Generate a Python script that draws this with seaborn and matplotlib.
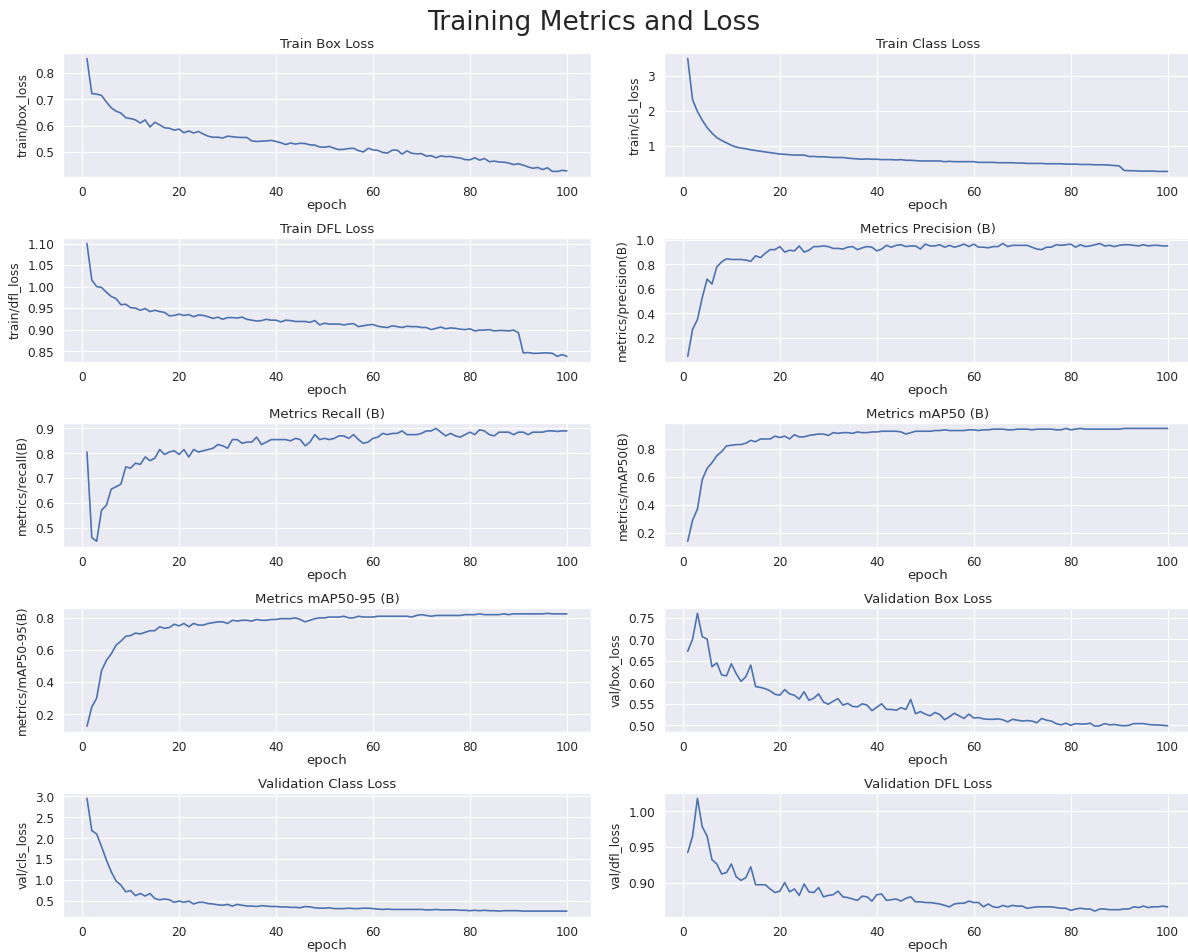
import pandas as pd
import seaborn as sns
import matplotlib.pyplot as plt
from matplotlib.ticker import MaxNLocator

# Training log values (epochs 1..100)
epoch = list(range(1, 101))

train_box_loss = [
    0.855, 0.722, 0.720, 0.715, 0.690, 0.668, 0.655, 0.648, 0.630, 0.627,
    0.622, 0.610, 0.622, 0.595, 0.613, 0.603, 0.592, 0.590, 0.583, 0.587,
    0.573, 0.580, 0.572, 0.578, 0.568, 0.560, 0.556, 0.556, 0.553, 0.560,
    0.558, 0.556, 0.555, 0.555, 0.542, 0.540, 0.541, 0.542, 0.544, 0.540,
    0.535, 0.528, 0.534, 0.530, 0.533, 0.532, 0.527, 0.526, 0.519, 0.518,
    0.521, 0.514, 0.509, 0.510, 0.513, 0.514, 0.505, 0.500, 0.514, 0.508,
    0.506, 0.498, 0.496, 0.507, 0.507, 0.492, 0.504, 0.495, 0.493, 0.494,
    0.484, 0.486, 0.478, 0.485, 0.482, 0.483, 0.479, 0.477, 0.471, 0.470,
    0.478, 0.469, 0.475, 0.463, 0.465, 0.462, 0.461, 0.458, 0.452, 0.455,
    0.450, 0.443, 0.438, 0.441, 0.433, 0.440, 0.426, 0.426, 0.430, 0.428,
]

train_cls_loss = [
    3.50, 2.32, 1.98, 1.73, 1.52, 1.36, 1.23, 1.15, 1.08, 1.01,
    0.96, 0.93, 0.91, 0.88, 0.86, 0.84, 0.82, 0.80, 0.78, 0.76,
    0.75, 0.74, 0.73, 0.73, 0.73, 0.69, 0.69, 0.68, 0.68, 0.67,
    0.66, 0.66, 0.66, 0.64, 0.63, 0.62, 0.61, 0.62, 0.61, 0.61,
    0.60, 0.60, 0.60, 0.59, 0.60, 0.58, 0.58, 0.57, 0.56, 0.56,
    0.56, 0.56, 0.56, 0.54, 0.55, 0.54, 0.54, 0.54, 0.54, 0.54,
    0.52, 0.52, 0.52, 0.52, 0.51, 0.51, 0.51, 0.51, 0.50, 0.50,
    0.49, 0.49, 0.49, 0.49, 0.48, 0.48, 0.48, 0.48, 0.47, 0.47,
    0.47, 0.46, 0.46, 0.46, 0.45, 0.45, 0.45, 0.44, 0.43, 0.42,
    0.29, 0.28, 0.28, 0.27, 0.27, 0.27, 0.27, 0.26, 0.26, 0.26,
]

train_dfl_loss = [
    1.100, 1.015, 1.000, 0.998, 0.987, 0.977, 0.972, 0.958, 0.959, 0.951,
    0.950, 0.945, 0.949, 0.942, 0.945, 0.942, 0.940, 0.932, 0.933, 0.936,
    0.933, 0.935, 0.930, 0.934, 0.933, 0.930, 0.926, 0.929, 0.924, 0.928,
    0.928, 0.927, 0.929, 0.924, 0.922, 0.920, 0.921, 0.924, 0.922, 0.922,
    0.918, 0.922, 0.921, 0.919, 0.919, 0.919, 0.917, 0.921, 0.911, 0.915,
    0.913, 0.913, 0.913, 0.911, 0.913, 0.914, 0.907, 0.909, 0.911, 0.912,
    0.908, 0.906, 0.905, 0.909, 0.907, 0.905, 0.908, 0.907, 0.907, 0.905,
    0.905, 0.900, 0.903, 0.906, 0.902, 0.904, 0.903, 0.901, 0.900, 0.902,
    0.897, 0.899, 0.899, 0.900, 0.897, 0.898, 0.898, 0.897, 0.899, 0.893,
    0.846, 0.847, 0.845, 0.845, 0.846, 0.846, 0.845, 0.838, 0.842, 0.838,
]

precision = [
    0.05, 0.27, 0.35, 0.53, 0.68, 0.64, 0.78, 0.82, 0.845, 0.84,
    0.84, 0.84, 0.835, 0.825, 0.87, 0.855, 0.89, 0.92, 0.92, 0.945,
    0.90, 0.915, 0.91, 0.95, 0.90, 0.915, 0.945, 0.945, 0.95, 0.945,
    0.93, 0.93, 0.925, 0.94, 0.945, 0.92, 0.935, 0.945, 0.94, 0.91,
    0.925, 0.955, 0.94, 0.955, 0.96, 0.945, 0.95, 0.95, 0.925, 0.965,
    0.95, 0.95, 0.96, 0.94, 0.955, 0.94, 0.95, 0.965, 0.945, 0.965,
    0.94, 0.94, 0.935, 0.945, 0.945, 0.97, 0.945, 0.955, 0.955, 0.955,
    0.955, 0.94, 0.925, 0.92, 0.94, 0.94, 0.96, 0.955, 0.96, 0.965,
    0.94, 0.96, 0.945, 0.95, 0.96, 0.97, 0.95, 0.955, 0.945, 0.955,
    0.96, 0.96, 0.955, 0.95, 0.96, 0.95, 0.955, 0.955, 0.95, 0.95,
]

recall = [
    0.805, 0.46, 0.445, 0.57, 0.59, 0.655, 0.665, 0.675, 0.745, 0.74,
    0.76, 0.755, 0.785, 0.77, 0.78, 0.815, 0.795, 0.805, 0.81, 0.795,
    0.815, 0.785, 0.815, 0.805, 0.81, 0.815, 0.82, 0.835, 0.83, 0.82,
    0.855, 0.855, 0.84, 0.845, 0.845, 0.865, 0.835, 0.845, 0.855, 0.855,
    0.855, 0.855, 0.85, 0.86, 0.855, 0.83, 0.845, 0.875, 0.855, 0.86,
    0.855, 0.86, 0.87, 0.87, 0.86, 0.875, 0.855, 0.84, 0.845, 0.86,
    0.865, 0.88, 0.875, 0.88, 0.88, 0.89, 0.875, 0.875, 0.875, 0.88,
    0.89, 0.89, 0.90, 0.885, 0.87, 0.88, 0.87, 0.865, 0.875, 0.885,
    0.875, 0.895, 0.89, 0.875, 0.87, 0.885, 0.885, 0.885, 0.875, 0.885,
    0.885, 0.875, 0.885, 0.885, 0.885, 0.89, 0.89, 0.888, 0.89, 0.89,
]

map50 = [
    0.14, 0.29, 0.37, 0.58, 0.66, 0.70, 0.75, 0.78, 0.82, 0.825,
    0.83, 0.83, 0.84, 0.86, 0.85, 0.87, 0.87, 0.87, 0.89, 0.88,
    0.89, 0.87, 0.90, 0.885, 0.885, 0.895, 0.90, 0.905, 0.905, 0.895,
    0.915, 0.91, 0.915, 0.915, 0.91, 0.92, 0.915, 0.915, 0.92, 0.92,
    0.925, 0.925, 0.925, 0.925, 0.92, 0.905, 0.915, 0.925, 0.925, 0.925,
    0.925, 0.93, 0.93, 0.935, 0.93, 0.93, 0.93, 0.93, 0.935, 0.935,
    0.93, 0.935, 0.935, 0.94, 0.94, 0.94, 0.935, 0.935, 0.94, 0.94,
    0.94, 0.935, 0.94, 0.94, 0.94, 0.94, 0.935, 0.935, 0.945, 0.935,
    0.94, 0.945, 0.94, 0.94, 0.94, 0.94, 0.94, 0.94, 0.94, 0.94,
    0.945, 0.945, 0.945, 0.945, 0.945, 0.945, 0.945, 0.945, 0.945, 0.945,
]

map50_95 = [
    0.125, 0.245, 0.30, 0.47, 0.535, 0.575, 0.63, 0.655, 0.685, 0.69,
    0.705, 0.70, 0.71, 0.72, 0.72, 0.745, 0.735, 0.74, 0.76, 0.75,
    0.765, 0.745, 0.765, 0.755, 0.755, 0.765, 0.77, 0.775, 0.775, 0.765,
    0.785, 0.78, 0.785, 0.785, 0.78, 0.79, 0.785, 0.785, 0.79, 0.79,
    0.795, 0.795, 0.795, 0.80, 0.79, 0.775, 0.785, 0.795, 0.80, 0.80,
    0.805, 0.805, 0.805, 0.81, 0.80, 0.80, 0.81, 0.805, 0.805, 0.805,
    0.81, 0.81, 0.81, 0.81, 0.81, 0.81, 0.81, 0.805, 0.815, 0.82,
    0.815, 0.81, 0.815, 0.815, 0.815, 0.815, 0.815, 0.815, 0.82, 0.82,
    0.82, 0.825, 0.82, 0.82, 0.82, 0.82, 0.825, 0.82, 0.825, 0.825,
    0.825, 0.825, 0.825, 0.825, 0.825, 0.828, 0.825, 0.825, 0.825, 0.825,
]

val_box_loss = [
    0.672, 0.700, 0.760, 0.706, 0.700, 0.636, 0.645, 0.617, 0.615, 0.643,
    0.620, 0.602, 0.613, 0.640, 0.590, 0.588, 0.585, 0.580, 0.572, 0.570,
    0.583, 0.573, 0.570, 0.561, 0.578, 0.558, 0.563, 0.573, 0.554, 0.549,
    0.556, 0.562, 0.547, 0.551, 0.544, 0.543, 0.550, 0.547, 0.534, 0.542,
    0.550, 0.537, 0.537, 0.535, 0.541, 0.537, 0.560, 0.527, 0.532, 0.526,
    0.522, 0.530, 0.525, 0.513, 0.520, 0.528, 0.522, 0.516, 0.526, 0.517,
    0.518, 0.515, 0.514, 0.514, 0.515, 0.513, 0.508, 0.514, 0.512, 0.510,
    0.511, 0.510, 0.506, 0.516, 0.512, 0.510, 0.504, 0.501, 0.505, 0.500,
    0.504, 0.503, 0.503, 0.505, 0.498, 0.499, 0.504, 0.501, 0.502, 0.500,
    0.499, 0.500, 0.504, 0.504, 0.504, 0.502, 0.501, 0.501, 0.500, 0.499,
]

val_cls_loss = [
    2.95, 2.18, 2.10, 1.80, 1.48, 1.20, 0.98, 0.88, 0.72, 0.75,
    0.63, 0.68, 0.62, 0.68, 0.56, 0.53, 0.55, 0.53, 0.47, 0.50,
    0.47, 0.50, 0.43, 0.47, 0.47, 0.44, 0.43, 0.41, 0.40, 0.42,
    0.38, 0.42, 0.40, 0.38, 0.38, 0.37, 0.39, 0.38, 0.37, 0.37,
    0.36, 0.36, 0.35, 0.35, 0.34, 0.37, 0.36, 0.34, 0.33, 0.33,
    0.34, 0.32, 0.32, 0.32, 0.33, 0.32, 0.32, 0.33, 0.33, 0.32,
    0.31, 0.30, 0.31, 0.30, 0.30, 0.30, 0.30, 0.30, 0.30, 0.30,
    0.29, 0.29, 0.30, 0.29, 0.29, 0.29, 0.29, 0.28, 0.28, 0.27,
    0.28, 0.27, 0.28, 0.27, 0.27, 0.26, 0.27, 0.27, 0.27, 0.27,
    0.26, 0.26, 0.26, 0.26, 0.26, 0.26, 0.26, 0.26, 0.26, 0.26,
]

val_dfl_loss = [
    0.942, 0.965, 1.018, 0.978, 0.965, 0.932, 0.926, 0.912, 0.914, 0.926,
    0.908, 0.903, 0.907, 0.922, 0.897, 0.897, 0.897, 0.891, 0.886, 0.888,
    0.900, 0.887, 0.891, 0.882, 0.898, 0.887, 0.886, 0.893, 0.880, 0.882,
    0.883, 0.888, 0.880, 0.879, 0.877, 0.875, 0.881, 0.880, 0.874, 0.883,
    0.884, 0.875, 0.876, 0.877, 0.874, 0.878, 0.880, 0.873, 0.873, 0.872,
    0.872, 0.871, 0.870, 0.868, 0.866, 0.870, 0.871, 0.871, 0.874, 0.872,
    0.872, 0.866, 0.870, 0.866, 0.865, 0.868, 0.866, 0.868, 0.867, 0.867,
    0.864, 0.865, 0.866, 0.866, 0.866, 0.866, 0.865, 0.864, 0.864, 0.861,
    0.863, 0.864, 0.863, 0.863, 0.860, 0.863, 0.863, 0.862, 0.862, 0.862,
    0.863, 0.863, 0.866, 0.865, 0.867, 0.865, 0.866, 0.866, 0.867, 0.866,
]

df = pd.DataFrame({
    'epoch': epoch,
    'train/box_loss': train_box_loss,
    'train/cls_loss': train_cls_loss,
    'train/dfl_loss': train_dfl_loss,
    'metrics/precision(B)': precision,
    'metrics/recall(B)': recall,
    'metrics/mAP50(B)': map50,
    'metrics/mAP50-95(B)': map50_95,
    'val/box_loss': val_box_loss,
    'val/cls_loss': val_cls_loss,
    'val/dfl_loss': val_dfl_loss,
})

# column -> subplot title
panels = [
    ('train/box_loss', 'Train Box Loss'),
    ('train/cls_loss', 'Train Class Loss'),
    ('train/dfl_loss', 'Train DFL Loss'),
    ('metrics/precision(B)', 'Metrics Precision (B)'),
    ('metrics/recall(B)', 'Metrics Recall (B)'),
    ('metrics/mAP50(B)', 'Metrics mAP50 (B)'),
    ('metrics/mAP50-95(B)', 'Metrics mAP50-95 (B)'),
    ('val/box_loss', 'Validation Box Loss'),
    ('val/cls_loss', 'Validation Class Loss'),
    ('val/dfl_loss', 'Validation DFL Loss'),
]

sns.set_theme(style="darkgrid")

fig, axs = plt.subplots(5, 2, figsize=(15.001, 12.025))
fig.subplots_adjust(left=0.053, right=1.003, top=0.944, bottom=0.037,
                    wspace=0.138, hspace=0.49)

for ax, (col, title) in zip(axs.flat, panels):
    sns.lineplot(data=df, x='epoch', y=col, ax=ax)
    ax.set_title(title, pad=5)
    ax.set_xlabel('epoch', labelpad=0)
    ax.set_ylabel(col, fontsize=11, labelpad=6)
    ax.tick_params(axis='both', pad=2)
    ax.yaxis.set_major_locator(MaxNLocator(nbins=6, steps=[1, 2, 2.5, 5, 10]))

fig.suptitle('Training Metrics and Loss', fontsize=24, y=0.99)
plt.savefig('out.png', dpi=79.2)
plt.close()
